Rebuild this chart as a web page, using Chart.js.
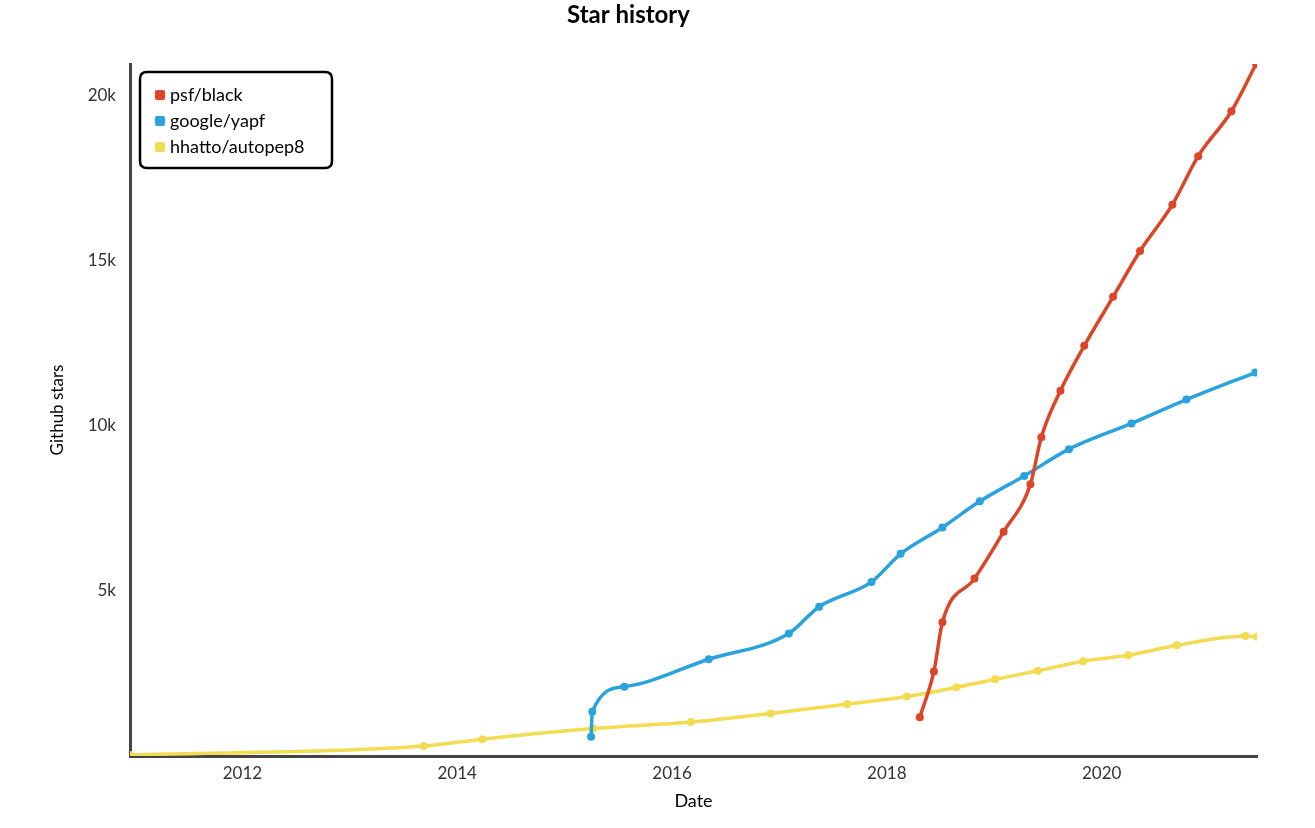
<!DOCTYPE html>
<html><head><meta charset="utf-8">
<script src="https://cdn.jsdelivr.net/npm/chart.js@4/dist/chart.umd.min.js"></script>
<style>html,body{margin:0;padding:0;background:#fff}</style>
</head><body>
<canvas id="c" width="1315" height="828"></canvas>
<script>
const seriesNames = ['psf/black', 'google/yapf', 'hhatto/autopep8'];

const blackDates = ['2018-04-23','2018-06-10','2018-07-09','2018-10-26','2019-02-02','2019-05-04','2019-06-10','2019-08-14','2019-11-03','2020-02-09','2020-05-11','2020-08-29','2020-11-25','2021-03-18','2021-06-10'];
const blackStars = [1170,2560,4050,5370,6790,8230,9650,11060,12420,13900,15290,16690,18160,19520,20950];

const yapfDates = ['2015-04-01','2015-04-05','2015-07-23','2016-05-05','2017-02-02','2017-05-16','2017-11-10','2018-02-17','2018-07-09','2018-11-13','2019-04-13','2019-09-12','2020-04-12','2020-10-16','2021-06-07'];
const yapfStars = [580,1340,2100,2930,3710,4520,5270,6120,6920,7710,8480,9290,10070,10790,11610];

const autopep8Dates = ['2010-12-15','2013-09-09','2014-03-28','2015-04-08','2016-03-05','2016-12-02','2017-08-19','2018-03-10','2018-08-26','2019-01-04','2019-05-29','2019-10-30','2020-04-01','2020-09-13','2021-05-05','2021-06-13'];
const autopep8Stars = [30,300,510,830,1030,1290,1570,1800,2080,2320,2580,2870,3050,3350,3630,3610];

const xTickYears = [2012, 2014, 2016, 2018, 2020];
const yTickValues = [5000, 10000, 15000, 20000];

const palette = ['#dd4528', '#28a3dd', '#f3db52'];
const FONT = 'Lato, "Open Sans", sans-serif';

function toYear(s) {
  const d = Date.parse(s + 'T00:00:00Z');
  const y = new Date(d).getUTCFullYear();
  const a = Date.UTC(y, 0, 1), b = Date.UTC(y + 1, 0, 1);
  return y + (d - a) / (b - a);
}
function pts(dates, vals) { return dates.map((d, i) => ({ x: toYear(d), y: vals[i] })); }

const allX = [...blackDates, ...yapfDates, ...autopep8Dates].map(toYear);
const allY = [...blackStars, ...yapfStars, ...autopep8Stars];

const rawSeries = [[blackDates, blackStars], [yapfDates, yapfStars], [autopep8Dates, autopep8Stars]];
const datasets = rawSeries.map((s, i) => ({
  label: seriesNames[i],
  data: pts(s[0], s[1]),
  borderColor: palette[i],
  backgroundColor: palette[i],
  borderWidth: 3.5,
  pointRadius: 4,
  pointBorderWidth: 0,
  pointHoverRadius: 4,
  cubicInterpolationMode: 'monotone',
  fill: false,
  order: i
}));

function rr(ctx, x, y, w, h, r) {
  ctx.beginPath();
  ctx.moveTo(x + r, y);
  ctx.lineTo(x + w - r, y); ctx.quadraticCurveTo(x + w, y, x + w, y + r);
  ctx.lineTo(x + w, y + h - r); ctx.quadraticCurveTo(x + w, y + h, x + w - r, y + h);
  ctx.lineTo(x + r, y + h); ctx.quadraticCurveTo(x, y + h, x, y + h - r);
  ctx.lineTo(x, y + r); ctx.quadraticCurveTo(x, y, x + r, y);
  ctx.closePath();
}

const boxLegend = {
  id: 'boxLegend',
  afterDatasetsDraw(chart) {
    const ctx = chart.ctx, a = chart.chartArea;
    const x = a.left + 10, y = a.top + 8, w = 192, h = 96;
    ctx.save();
    rr(ctx, x, y, w, h, 7);
    ctx.fillStyle = '#fff'; ctx.fill();
    ctx.lineWidth = 2.5; ctx.strokeStyle = '#000'; ctx.stroke();
    chart.data.datasets.forEach((ds, i) => {
      const cy = y + 23 + i * 26;
      ctx.fillStyle = ds.borderColor;
      rr(ctx, x + 15, cy - 5, 10, 10, 2); ctx.fill();
      ctx.fillStyle = '#000';
      ctx.font = '18px ' + FONT;
      ctx.textBaseline = 'middle';
      ctx.textAlign = 'left';
      ctx.fillText(ds.label, x + 30, cy);
    });
    ctx.restore();
  }
};

new Chart(document.getElementById('c'), {
  type: 'line',
  data: { datasets },
  plugins: [boxLegend],
  options: {
    responsive: false,
    animation: false,
    devicePixelRatio: 1,
    layout: { padding: { left: 0, right: 58, top: 0, bottom: 0 } },
    plugins: {
      legend: { display: false },
      tooltip: { enabled: false },
      title: {
        display: true, text: 'Star history', color: '#000',
        font: { family: FONT, size: 24, weight: 'bold' },
        padding: { top: 1, bottom: 34.2 }
      }
    },
    scales: {
      x: {
        type: 'linear',
        min: Math.min(...allX), max: Math.max(...allX),
        grid: { display: false, drawTicks: false, tickLength: 0 },
        border: { display: true, color: '#444', width: 3 },
        afterFit: s => { s.height = 72; },
        afterBuildTicks: s => { s.ticks = xTickYears.map(v => ({ value: v })); },
        ticks: {
          padding: 7, color: '#333', maxRotation: 0, autoSkip: false,
          font: { family: FONT, size: 17 },
          callback: v => String(v)
        },
        title: {
          display: true, text: 'Date', color: '#000',
          font: { family: FONT, size: 18 },
          padding: { top: 0, bottom: 16 }
        }
      },
      y: {
        type: 'linear',
        min: 0, max: Math.max(...allY),
        grid: { display: false, drawTicks: false, tickLength: 0 },
        border: { display: true, color: '#444', width: 3 },
        afterFit: s => { s.width = 130; },
        afterBuildTicks: s => { s.ticks = yTickValues.map(v => ({ value: v })); },
        ticks: {
          padding: 14, color: '#333',
          font: { family: FONT, size: 17 },
          callback: v => (v / 1000) + 'k'
        },
        title: {
          display: true, text: 'Github stars', color: '#000',
          font: { family: FONT, size: 17 },
          padding: { top: 47, bottom: 0 }
        }
      }
    }
  }
});
</script>
</body></html>
